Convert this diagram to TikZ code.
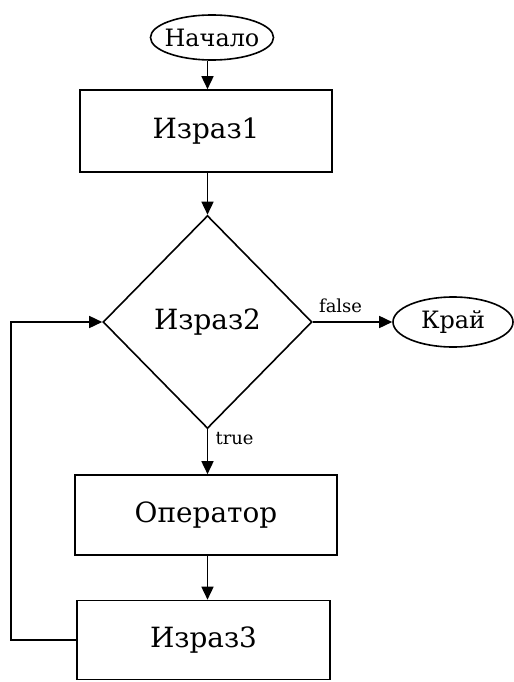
\documentclass[tikz,border=0pt]{standalone}
\usepackage{fontspec}
\setmainfont{DejaVu Serif}
\usetikzlibrary{shapes.geometric,arrows.meta}
\begin{document}
\begin{tikzpicture}[x=1bp,y=-1bp,
  line width=1.6bp,
  flow/.style={-{Triangle[length=13bp,width=12bp]}},
  procbox/.style={draw,rectangle,inner sep=0pt,font=\fontsize{28}{32}\selectfont},
  term/.style={draw,ellipse,inner xsep=-6bp,inner ysep=0pt,font=\fontsize{24}{28}\selectfont},
  decision/.style={draw,diamond,inner sep=0pt,font=\fontsize{28}{32}\selectfont},
  lbl/.style={font=\fontsize{18}{21}\selectfont}]
\useasboundingbox (0,0) rectangle (514,682);
\node[term,minimum width=123bp,minimum height=45bp] (start) at (212,37.5) {Начало};
\node[procbox,minimum width=252bp,minimum height=82bp] (e1) at (206,131) {Израз1};
\node[decision,minimum width=209bp,minimum height=213bp] (e2) at (207.5,322) {Израз2};
\node[term,minimum width=120bp,minimum height=50bp] (stop) at (453,322) {Край};
\node[procbox,minimum width=262bp,minimum height=80bp] (op) at (206,515) {Оператор};
\node[procbox,minimum width=253bp,minimum height=79bp] (e3) at (203.5,640) {Израз3};
% loop-back corners on the left
\coordinate (loopbot) at (11,640);
\coordinate (looptop) at (11,322);
% main vertical axis
\coordinate (axis) at (207.5,0);
\draw[flow] (axis |- start.south) -- (axis |- e1.north);
\draw[flow] (axis |- e1.south) -- (e2.north);
\draw[flow] (e2.east) -- node[lbl,above=5bp,pos=0.35] {false} (stop.west);
\draw[flow] (e2.south) -- node[lbl,right=4bp,pos=0.2] {true} (axis |- op.north);
\draw[flow] (axis |- op.south) -- (axis |- e3.north);
\draw[flow] (e3.west) -- (loopbot) -- (looptop) -- (e2.west);
\end{tikzpicture}
\end{document}
